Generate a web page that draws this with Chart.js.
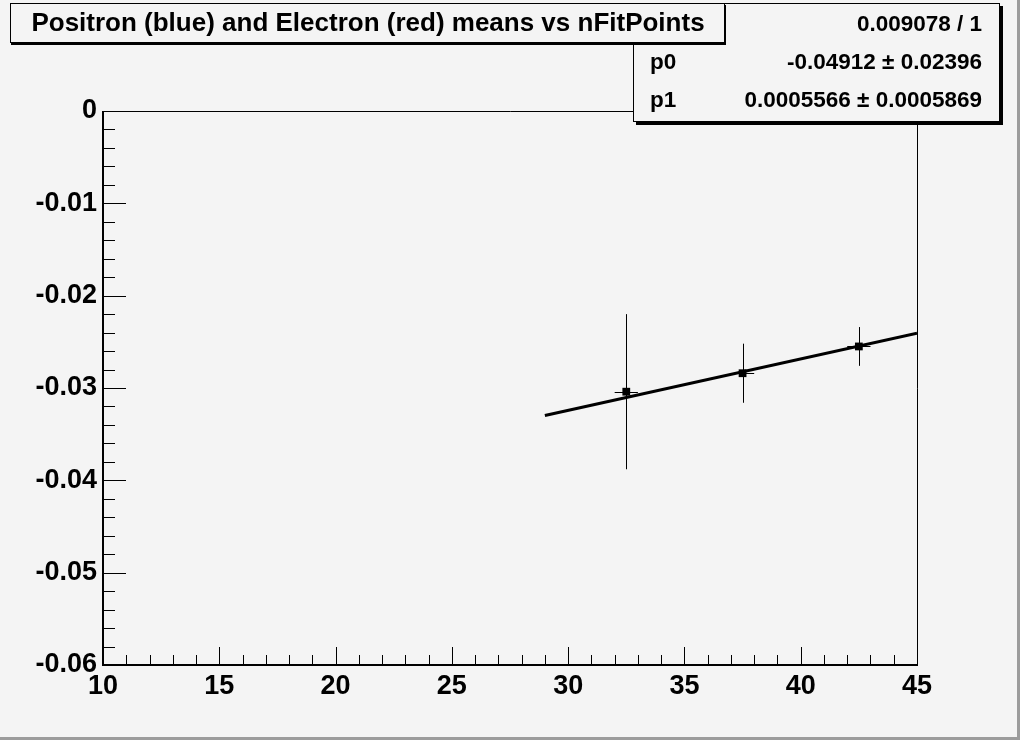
<!DOCTYPE html>
<html>
<head>
<meta charset="utf-8">
<title>Positron and Electron means vs nFitPoints</title>
<script src="https://cdn.jsdelivr.net/npm/chart.js@4.4.0/dist/chart.umd.min.js"></script>
<style>
html, body { margin: 0; padding: 0; background: #f4f4f4; }
#wrap { position: relative; width: 1020px; height: 740px; }
</style>
</head>
<body>
<div id="wrap"><canvas id="chart" width="1020" height="740"></canvas></div>
<script>
'use strict';

// values
var nFitPoints = [32.5, 37.5, 42.5];
var meanValues = [-0.0304, -0.0284, -0.0255];
var meanErrors = [0.0084, 0.0032, 0.0021];
var binHalfWidth = [0.5, 0.5, 0.5];

// straight line fit (pol1), drawn over its fit range
var fitX = [29, 45];
var fitY = [-0.03298, -0.02407];

var xTicks = [10, 15, 20, 25, 30, 35, 40, 45];
var yTicks = [0, -0.01, -0.02, -0.03, -0.04, -0.05, -0.06];

var titleText = 'Positron (blue) and Electron (red) means vs nFitPoints';
var statsRows = [
    ['', '0.009078 / 1'],
    ['p0', '-0.04912 \u00b1 0.02396'],
    ['p1', '0.0005566 \u00b1 0.0005869']
];

var fontName = '"Liberation Sans", Arial, Helvetica, sans-serif';
var bg = '#f4f4f4';

var rootStyle = {
    id: 'rootStyle',
    beforeDraw: function (chart) {
        var ctx = chart.ctx;
        ctx.save();
        ctx.fillStyle = bg;
        ctx.fillRect(0, 0, chart.width, chart.height);
        ctx.restore();
    },
    beforeDatasetsDraw: function (chart) {
        var ctx = chart.ctx;
        var area = chart.chartArea;
        var xs = chart.scales.x;
        var ys = chart.scales.y;
        var i, k, px, py, len;

        ctx.save();
        ctx.strokeStyle = '#000';

        // ticks inside the frame
        ctx.lineWidth = 1;
        ctx.beginPath();
        for (i = 10; i <= 45; i++) {
            px = Math.round(xs.getPixelForValue(i)) + 0.5;
            len = (i % 5 === 0) ? 18 : 10;
            ctx.moveTo(px, area.bottom);
            ctx.lineTo(px, area.bottom - len);
        }
        for (k = 0; k <= 30; k++) {
            py = Math.round(ys.getPixelForValue(-k * 0.002)) + 0.5;
            len = (k % 5 === 0) ? 23 : 12;
            ctx.moveTo(area.left, py);
            ctx.lineTo(area.left + len, py);
        }
        ctx.stroke();

        // frame
        ctx.beginPath();
        ctx.moveTo(area.left, area.top + 0.5);
        ctx.lineTo(area.right + 0.5, area.top + 0.5);
        ctx.lineTo(area.right + 0.5, area.bottom);
        ctx.stroke();
        ctx.lineWidth = 2;
        ctx.beginPath();
        ctx.moveTo(area.left, area.top);
        ctx.lineTo(area.left, area.bottom);
        ctx.lineTo(area.right + 1, area.bottom);
        ctx.stroke();

        // error bars
        ctx.lineWidth = 1;
        ctx.beginPath();
        for (i = 0; i < nFitPoints.length; i++) {
            px = Math.round(xs.getPixelForValue(nFitPoints[i])) + 0.5;
            py = Math.round(ys.getPixelForValue(meanValues[i])) + 0.5;
            ctx.moveTo(px, ys.getPixelForValue(meanValues[i] + meanErrors[i]));
            ctx.lineTo(px, ys.getPixelForValue(meanValues[i] - meanErrors[i]));
            ctx.moveTo(xs.getPixelForValue(nFitPoints[i] - binHalfWidth[i]), py);
            ctx.lineTo(xs.getPixelForValue(nFitPoints[i] + binHalfWidth[i]), py);
        }
        ctx.stroke();
        ctx.restore();
    },
    afterDraw: function (chart) {
        var ctx = chart.ctx;
        var w = chart.width;
        var h = chart.height;
        ctx.save();

        // stats box (with shadow)
        ctx.fillStyle = '#000';
        ctx.fillRect(636, 6, 367, 119);
        ctx.fillStyle = bg;
        ctx.fillRect(633, 3, 367, 119);
        ctx.strokeStyle = '#000';
        ctx.lineWidth = 1;
        ctx.strokeRect(633.5, 3.5, 366, 118);

        ctx.fillStyle = '#000';
        ctx.font = 'bold 22.5px ' + fontName;
        ctx.textBaseline = 'middle';
        var rowY = [25, 63, 101];
        for (var r = 0; r < statsRows.length; r++) {
            ctx.textAlign = 'left';
            ctx.fillText(statsRows[r][0], 650, rowY[r]);
            ctx.textAlign = 'right';
            ctx.fillText(statsRows[r][1], 982, rowY[r]);
        }

        // title box (with shadow)
        ctx.fillStyle = '#000';
        ctx.fillRect(11, 5, 715, 40);
        ctx.fillStyle = bg;
        ctx.fillRect(10, 3, 715, 40);
        ctx.strokeRect(10.5, 3.5, 714, 39);
        ctx.fillStyle = '#000';
        ctx.font = 'bold 26px ' + fontName;
        ctx.textAlign = 'center';
        ctx.fillText(titleText, 368, 24);

        // canvas edge
        ctx.fillStyle = '#9c9c9c';
        ctx.fillRect(w - 3, 0, 3, h);
        ctx.fillRect(0, h - 3, w, 3);
        ctx.restore();
    }
};

var ctx = document.getElementById('chart').getContext('2d');
var chart = new Chart(ctx, {
    type: 'scatter',
    data: {
        datasets: [
            {
                label: 'fit',
                data: fitX.map(function (x, i) { return { x: x, y: fitY[i] }; }),
                showLine: true,
                borderColor: '#000',
                borderWidth: 3,
                pointRadius: 0,
                order: 2
            },
            {
                label: 'means',
                data: nFitPoints.map(function (x, i) { return { x: x, y: meanValues[i] }; }),
                pointStyle: 'rect',
                pointRadius: 5.5,
                backgroundColor: '#000',
                borderColor: '#000',
                borderWidth: 0,
                order: 1
            }
        ]
    },
    options: {
        responsive: false,
        animation: false,
        layout: { padding: { top: 111, right: 103, left: 0, bottom: 0 } },
        plugins: {
            legend: { display: false },
            tooltip: { enabled: false },
            title: { display: false }
        },
        scales: {
            x: {
                type: 'linear',
                min: 10,
                max: 45,
                afterBuildTicks: function (scale) {
                    scale.ticks = xTicks.map(function (v) { return { value: v }; });
                },
                afterFit: function (scale) { scale.height = 75; },
                grid: { display: false, drawTicks: false },
                border: { display: false },
                ticks: {
                    autoSkip: false,
                    maxRotation: 0,
                    padding: 5,
                    color: '#000',
                    font: { family: fontName, size: 27, weight: 'bold' }
                }
            },
            y: {
                type: 'linear',
                min: -0.06,
                max: 0,
                afterBuildTicks: function (scale) {
                    scale.ticks = yTicks.map(function (v) { return { value: v }; });
                },
                afterFit: function (scale) { scale.width = 103; },
                grid: { display: false, drawTicks: false },
                border: { display: false },
                ticks: {
                    autoSkip: false,
                    padding: 6,
                    color: '#000',
                    font: { family: fontName, size: 27, weight: 'bold' },
                    callback: function (v) { return v === 0 ? '0' : v.toFixed(2); }
                }
            }
        }
    },
    plugins: [rootStyle]
});
</script>
</body>
</html>
